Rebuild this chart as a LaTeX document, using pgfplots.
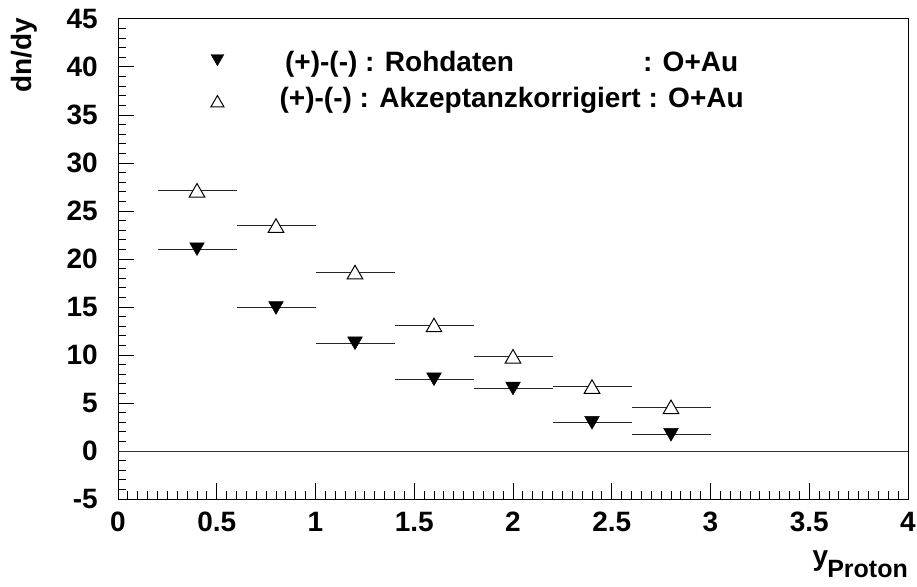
\documentclass[border=0pt]{standalone}
\usepackage{pgfplots}
\pgfplotsset{compat=1.18}
\usepackage{fontspec}
\setmainfont{Liberation Sans}
\pgfplotstableread{
x xerr y
0.4 0.2 21.04
0.8 0.2 14.91
1.2 0.2 11.23
1.6 0.2 7.48
2.0 0.2 6.52
2.4 0.2 2.95
2.8 0.2 1.70
}\rohdaten
\pgfplotstableread{
x xerr y
0.4 0.2 27.13
0.8 0.2 23.46
1.2 0.2 18.61
1.6 0.2 13.10
2.0 0.2 9.84
2.4 0.2 6.69
2.8 0.2 4.57
}\akzeptanz
\newcommand{\bigfont}{\fontsize{28bp}{32bp}\selectfont\bfseries}
\begin{document}
\begin{tikzpicture}
\begin{axis}[
  scale only axis,
  width=790bp, height=480bp,
  xmin=0, xmax=4, ymin=-5, ymax=45,
  xtick={0,0.5,...,4}, ytick={-5,0,...,45},
  xticklabels={0,0.5,1,1.5,2,2.5,3,3.5,4},
  minor x tick num=9, minor y tick num=4,
  tick pos=left, tick align=inside,
  major tick length=16bp, minor tick length=8bp,
  axis line style={line width=1bp},
  every tick/.style={line width=1bp, black},
  /pgf/number format/assume math mode=true,
  tick label style={font=\bigfont},
  xticklabel style={inner sep=0pt, anchor=north, yshift=-13bp},
  yticklabel style={inner sep=0pt, anchor=east, xshift=-20bp},
  ylabel={\bigfont dn/dy},
  ylabel style={at={(axis description cs:-0.110,1.002)}, anchor=base east, rotate=0, inner sep=0pt},
  xlabel={\bigfont y\kern-1bp\raisebox{-12bp}{\fontsize{25bp}{25bp}\selectfont\bfseries Proton}},
  xlabel style={at={(axis description cs:1,-0.1375)}, anchor=base east, inner sep=0pt},
  legend image code/.code={\draw[#1, mark size=7.5bp, yshift=2bp] plot coordinates {(0bp,0bp)}; \path (-7bp,0bp) (7bp,0bp);},
  legend cell align=center,
  legend style={draw=none, fill=none, at={(axis description cs:0.1165,0.933)}, anchor=north west,
    font=\bigfont, inner sep=0pt, nodes={inner sep=0pt}, row sep=14bp,
    /tikz/every odd column/.append style={column sep=55bp}},
]
\draw[line width=1bp, black!80] (axis cs:0,0) -- (axis cs:4,0);
\addplot[only marks, mark=triangle*, mark size=8.5bp, mark options={yshift=2bp, rotate=180, fill=black, draw=black},
  error bars/.cd, x dir=both, x explicit, error mark=none, error bar style={line width=1bp, black!85}]
  table[x=x, y=y, x error=xerr] {\rohdaten};
\addlegendentry{(+)-(-) : Rohdaten\hspace{129bp}: O+Au}
\addplot[only marks, mark=triangle*, mark size=9bp, mark options={yshift=-2bp, fill=white, draw=black, line width=1bp},
  legend image post style={yshift=-5bp},
  error bars/.cd, x dir=both, x explicit, error mark=none, error bar style={line width=1bp, black!85}]
  table[x=x, y=y, x error=xerr] {\akzeptanz};
\addlegendentry{(+)-(-) : Akzeptanzkorrigiert : O+Au}
\coordinate (SW) at (rel axis cs:0,0);
\coordinate (NE) at (rel axis cs:1,1);
\end{axis}
\pgfresetboundingbox
\path ([xshift=-118bp,yshift=-87bp]SW) rectangle ([xshift=9bp,yshift=19bp]NE);
\end{tikzpicture}
\end{document}
